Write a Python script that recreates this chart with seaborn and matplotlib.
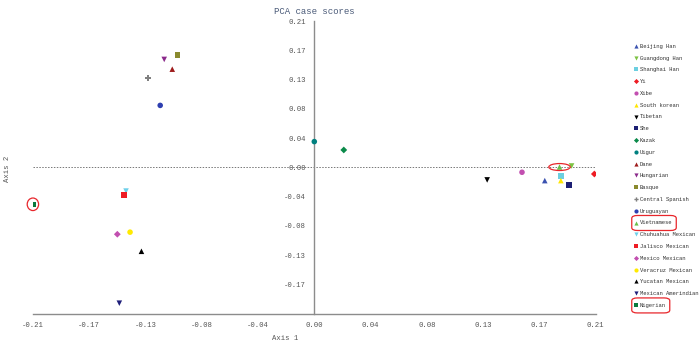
import numpy as np
import pandas as pd
import matplotlib
matplotlib.use('Agg')
import matplotlib.pyplot as plt
import seaborn as sns
from matplotlib.patches import Ellipse, FancyBboxPatch

# --- data ---
POPS = ['Beijing Han', 'Guangdong Han', 'Shanghai Han', 'Yi', 'Xibe', 'South korean',
        'Tibetan', 'She', 'Kazak', 'Uigur', 'Dane', 'Hungarian', 'Basque',
        'Central Spanish', 'Uruguayan', 'Vietnamese', 'Chuhuahua Mexican',
        'Jalisco Mexican', 'Mexico Mexican', 'Veracruz Mexican', 'Yucatan Mexican',
        'Mexican Amerindian', 'Nigerian']
AXIS1 = [0.172, 0.192, 0.184, 0.209, 0.155, 0.184, 0.129, 0.190, 0.022, 0.000,
         -0.106, -0.112, -0.102, -0.124, -0.115, 0.183, -0.1405, -0.142, -0.147,
         -0.1375, -0.129, -0.1455, -0.210]
AXIS2 = [-0.019, 0.002, -0.0125, -0.0095, -0.007, -0.019, -0.018, -0.025, 0.025, 0.037,
         0.141, 0.155, 0.161, 0.128, 0.089, 0.0005, -0.034, -0.040, -0.096,
         -0.093, -0.1205, -0.195, -0.053]
COLORS = ['#3b52b0', '#7cc242', '#6ccfe0', '#ee1c24', '#c24fb0', '#ffe600',
          '#000000', '#1c1f73', '#0b8a4a', '#00807f', '#9e1b1b', '#8b2a8b', '#8a8a2e',
          '#808080', '#2e3fb0', '#6abf4b', '#6dd0ea', '#ee1c24', '#c24fb0',
          '#ffea00', '#000000', '#1f1f7a', '#0b7a3e']
MARKERS = ['^', 'v', 's', 'D', 'o', '^', 'v', 's', 'D', 'o', '^', 'v', 's',
           'P', 'o', '^', 'v', 's', 'D', 'o', '^', 'v', 's']
HIGHLIGHT = ['Vietnamese', 'Nigerian']
TICKS = [-0.21, -0.168, -0.126, -0.084, -0.042, 0.0, 0.042, 0.084, 0.126, 0.168, 0.21]

df = pd.DataFrame({'pop': POPS, 'x': AXIS1, 'y': AXIS2})
pal = dict(zip(POPS, COLORS))
mk = dict(zip(POPS, MARKERS))
# diamonds draw larger than the rest at equal area, so shrink them a bit
sz = {p: (12 if m == 'D' else 16) for p, m in zip(POPS, MARKERS)}

sns.set_style('white')
plt.rcParams['font.family'] = ['Liberation Mono', 'DejaVu Sans Mono']

fig = plt.figure(figsize=(7, 3.52), dpi=100)
ax = fig.add_axes([0.047, 0.109, 0.804, 0.831])

sns.scatterplot(data=df, x='x', y='y', hue='pop', style='pop', size='pop',
                palette=pal, markers=mk, sizes=sz, edgecolor='none', ax=ax, zorder=3)

ax.set_xlim(-0.21, 0.21)
ax.set_ylim(-0.21, 0.21)
ax.set_xticks(TICKS)
ax.set_yticks(TICKS[1:])
fmt = lambda v: '%.2f' % v if abs(v) > 1e-9 else '0.00'
ax.set_xticklabels([fmt(t) for t in TICKS])
ax.set_yticklabels([fmt(t) for t in TICKS[1:]])

for s in ['top', 'right']:
    ax.spines[s].set_visible(False)
ax.spines['left'].set_position(('data', 0))
for s in ['left', 'bottom']:
    ax.spines[s].set_color('#8c8c8c')
    ax.spines[s].set_linewidth(1.0)
ax.tick_params(axis='x', direction='inout', length=12, width=1, color='#8c8c8c',
               labelsize=5.2, labelcolor='#555555', pad=0)
ax.tick_params(axis='y', direction='inout', length=10, width=1, color='#8c8c8c',
               labelsize=5.2, labelcolor='#555555', pad=1)

ax.plot([-0.21, 0.21], [0, 0], ls=(0, (1.5, 1.5)), color='#777777', lw=0.7, zorder=1)

ax.set_xlabel('')
ax.set_ylabel('')
fig.text(0.407, 0.035, 'Axis 1', fontsize=5.2, color='#555555', ha='center')
fig.text(0.006, 0.52, 'Axis 2', fontsize=5.2, color='#555555', rotation=90, va='center')
ax.set_title('PCA case scores', fontsize=6.5, color='#4a5a78', pad=5)

# red rings around the highlighted points
RING = {'Vietnamese': (0.016, 0.010), 'Nigerian': (0.0085, 0.018)}
for name in HIGHLIGHT:
    r = df[df['pop'] == name].iloc[0]
    w, h = RING[name]
    ax.add_patch(Ellipse((r['x'], r['y']), w, h, fill=False, edgecolor='#e8262b',
                         lw=0.9, zorder=4, clip_on=False))

leg = ax.legend(loc='upper left', bbox_to_anchor=(1.062, 0.93), frameon=False,
                fontsize=4.0, markerscale=0.75, handletextpad=0.25, handlelength=1.0,
                labelspacing=1.22, borderaxespad=0)
for t in leg.get_texts():
    t.set_color('#333333')

fig.canvas.draw()
rend = fig.canvas.get_renderer()
inv = fig.transFigure.inverted()
for t in leg.get_texts():
    if t.get_text() in HIGHLIGHT:
        bb = t.get_window_extent(rend)
        (fx0, fy0) = inv.transform((bb.x0 - 8, bb.y0 - 5))
        (fx1, fy1) = inv.transform((bb.x1 + 4, bb.y1 + 5))
        fig.add_artist(FancyBboxPatch((fx0, fy0), fx1 - fx0, fy1 - fy0,
                                      boxstyle='round,pad=0,rounding_size=0.008',
                                      fill=False, edgecolor='#e8262b', lw=0.9,
                                      transform=fig.transFigure))

fig.savefig('out.png', dpi=100)
